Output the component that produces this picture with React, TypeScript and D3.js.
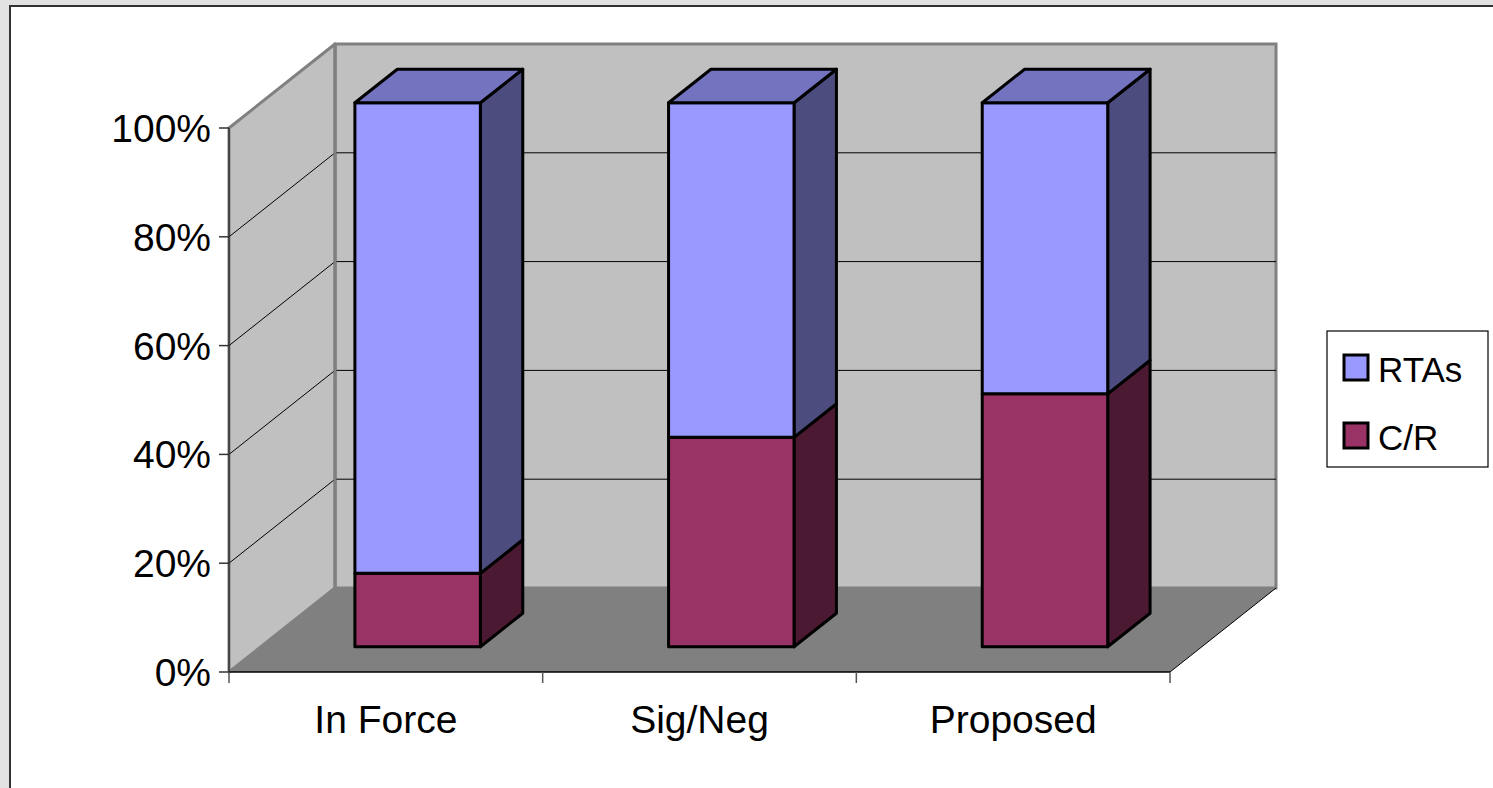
import React from "react";
import * as d3 from "d3";

const categories = ["In Force", "Sig/Neg", "Proposed"];
const seriesNames = ["C/R", "RTAs"];
const crValues = [13.5, 38.5, 46.5];
const rtaValues = [86.5, 61.5, 53.5];
const yTicks = [0, 20, 40, 60, 80, 100];
const yTickLabels = ["0%", "20%", "40%", "60%", "80%", "100%"];

const W = 1493;
const H = 788;
const X0 = 229;
const X1 = 1170;
const Y0 = 672;
const Y1 = 128;
const DX = 106;
const DY = 84;
const Z0 = 0.3;
const Z1 = 0.7;

const colors: Record<string, { front: string; side: string; top: string }> = {
  "C/R": { front: "#993366", side: "#4C1933", top: "#73264D" },
  RTAs: { front: "#9999FF", side: "#4C4C7F", top: "#7373BF" },
};

const FONT = "'Liberation Sans', Arial, sans-serif";

export default function App() {
  const y = d3.scaleLinear().domain([0, 100]).range([Y0, Y1]);
  const x = d3
    .scaleBand<string>()
    .domain(categories)
    .range([X0, X1])
    .paddingInner(0.6)
    .paddingOuter(0.3);
  const step = x.step();

  const P = (px: number, v: number, z: number): [number, number] => [px + z * DX, y(v) - z * DY];
  const poly = (pts: [number, number][]) => pts.map((p) => p.join(",")).join(" ");

  const series = [crValues, rtaValues];

  const bars: React.ReactNode[] = [];
  categories.forEach((c, i) => {
    const bx0 = x(c)!;
    const bx1 = bx0 + x.bandwidth();
    let base = 0;
    series.forEach((vals, si) => {
      const name = seriesNames[si];
      const top = base + vals[i];
      const col = colors[name];
      const isTop = si === series.length - 1;
      bars.push(
        <g key={`${c}-${name}`}>
          <polygon
            points={poly([P(bx1, base, Z0), P(bx1, top, Z0), P(bx1, top, Z1), P(bx1, base, Z1)])}
            fill={col.side}
            stroke="#000"
            strokeWidth={3}
            strokeLinejoin="round"
          />
          <polygon
            points={poly([P(bx0, base, Z0), P(bx1, base, Z0), P(bx1, top, Z0), P(bx0, top, Z0)])}
            fill={col.front}
            stroke="#000"
            strokeWidth={3}
            strokeLinejoin="round"
          />
          {isTop && (
            <polygon
              points={poly([P(bx0, top, Z0), P(bx1, top, Z0), P(bx1, top, Z1), P(bx0, top, Z1)])}
              fill={col.top}
              stroke="#000"
              strokeWidth={3}
              strokeLinejoin="round"
            />
          )}
        </g>
      );
      base = top;
    });
  });

  const gridVals = yTicks.filter((v) => v > 0 && v < 100);
  const catTicks = [X0, ...categories.map((c, i) => X0 + step * (i + 1))];

  return (
    <svg width={W} height={H} style={{ position: "absolute", left: 0, top: 0 }}>
      <rect x={0} y={0} width={W} height={H} fill="#e2e2e2" />
      <rect x={10} y={6} width={W + 20} height={H + 20} fill="#ffffff" stroke="#333" strokeWidth={2} />

      {/* back wall */}
      <rect
        x={X0 + DX}
        y={Y1 - DY}
        width={X1 - X0}
        height={Y0 - Y1}
        fill="#C0C0C0"
        stroke="#808080"
        strokeWidth={3}
      />
      {/* side wall */}
      <polygon
        points={poly([P(X0, 0, 0), P(X0, 100, 0), P(X0, 100, 1), P(X0, 0, 1)])}
        fill="#C0C0C0"
        stroke="#808080"
        strokeWidth={3}
        strokeLinejoin="round"
      />
      {/* floor */}
      <polygon points={poly([P(X0, 0, 0), P(X1, 0, 0), P(X1, 0, 1), P(X0, 0, 1)])} fill="#808080" />
      <line x1={X1} y1={Y0} x2={X1 + DX} y2={Y0 - DY} stroke="#000" strokeWidth={1} />
      <line x1={X0} y1={Y0} x2={X1} y2={Y0} stroke="#000" strokeWidth={1.5} />

      {/* gridlines */}
      {gridVals.map((v) => (
        <g key={`g${v}`}>
          <line x1={P(X0, v, 0)[0]} y1={P(X0, v, 0)[1]} x2={P(X0, v, 1)[0]} y2={P(X0, v, 1)[1]} stroke="#000" strokeWidth={1} />
          <line x1={P(X0, v, 1)[0] + 1} y1={P(X0, v, 1)[1]} x2={P(X1, v, 1)[0]} y2={P(X1, v, 1)[1]} stroke="#000" strokeWidth={1} />
        </g>
      ))}
      {/* left back edge */}
      <line x1={X0 + DX} y1={Y0 - DY} x2={X0 + DX} y2={Y1 - DY} stroke="#808080" strokeWidth={3} />

      {/* y axis */}
      <line x1={X0} y1={Y0} x2={X0} y2={Y1} stroke="#333" strokeWidth={1.5} />
      {yTicks.map((v, i) => (
        <g key={`t${v}`}>
          <line x1={X0 - 10} y1={y(v)} x2={X0} y2={y(v)} stroke="#333" strokeWidth={1.5} />
          <text
            x={211}
            y={y(v) + 14}
            textAnchor="end"
            fontFamily={FONT}
            fontSize={39}
            fill="#000"
          >
            {yTickLabels[i]}
          </text>
        </g>
      ))}

      {/* category ticks */}
      {catTicks.map((t, i) => (
        <line key={`ct${i}`} x1={t} y1={Y0} x2={t} y2={Y0 + 11} stroke="#555" strokeWidth={1.5} />
      ))}
      {categories.map((c) => (
        <text
          key={`cl${c}`}
          x={x(c)! + x.bandwidth() / 2}
          y={733}
          textAnchor="middle"
          fontFamily={FONT}
          fontSize={39}
          fill="#000"
        >
          {c}
        </text>
      ))}

      {bars}

      {/* legend */}
      <rect x={1327} y={331} width={161} height={136} fill="#fff" stroke="#000" strokeWidth={1.2} />
      {["RTAs", "C/R"].map((name, i) => (
        <g key={`lg${name}`}>
          <rect
            x={1344}
            y={355 + i * 68}
            width={24}
            height={25}
            fill={colors[name].front}
            stroke="#000"
            strokeWidth={3}
          />
          <text x={1378} y={382 + i * 68} fontFamily={FONT} fontSize={35} fill="#000">
            {name}
          </text>
        </g>
      ))}
    </svg>
  );
}
